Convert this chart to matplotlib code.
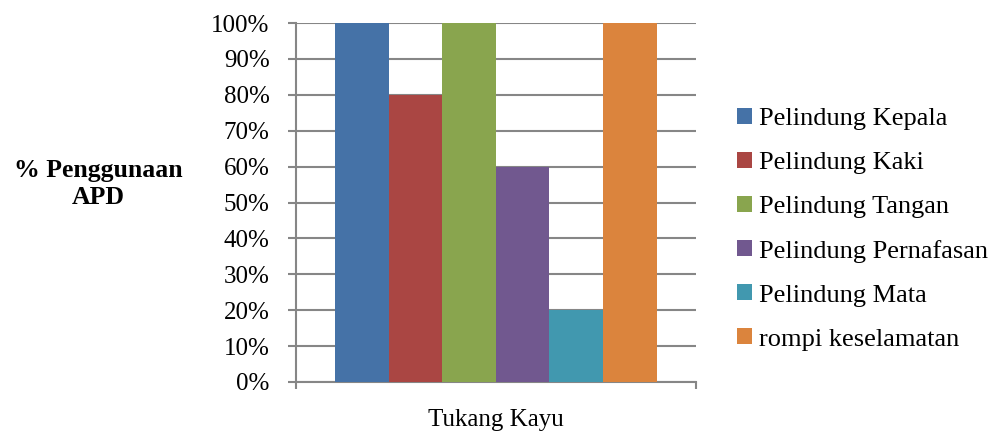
import numpy as np
import matplotlib
matplotlib.use("Agg")
import matplotlib.pyplot as plt

plt.rcParams['font.family'] = ['Liberation Serif', 'DejaVu Serif']

# data
category = 'Tukang Kayu'
series = ['Pelindung Kepala', 'Pelindung Kaki', 'Pelindung Tangan',
          'Pelindung Pernafasan', 'Pelindung Mata', 'rompi keselamatan']
values = [100, 80, 100, 60, 20, 100]
colors = ['#4572A7', '#AA4643', '#89A54E', '#71588F', '#4198AF', '#DB843D']
yticks = list(range(0, 101, 10))

fig = plt.figure(figsize=(9.91, 4.34), dpi=100)
ax = fig.add_axes([296/991, 52/434, 400/991, 359/434])

w = 0.134
start = -0.4025
x = start + w * (np.arange(len(values)) + 0.5)
bars = ax.bar(x, values, width=w, color=colors, zorder=3)

ax.set_xlim(-0.5, 0.5)
ax.set_ylim(0, 100)
ax.set_yticks(yticks)
ax.set_yticklabels([f'{t}%' for t in yticks])
ax.yaxis.grid(True, color='#868686', linewidth=1.5, zorder=0)
ax.set_xticks([-0.5, 0.5])
ax.set_xticklabels(['', ''])
ax.tick_params(axis='y', length=6, width=1.5, color='#868686', pad=13, labelsize=18)
ax.tick_params(axis='x', length=5, width=1.5, color='#868686', direction='out')
for s in ['top', 'right']:
    ax.spines[s].set_visible(False)
for s in ['left', 'bottom']:
    ax.spines[s].set_color('#868686')
    ax.spines[s].set_linewidth(1.5)

ax.set_xlabel(category, fontsize=18, labelpad=11)
fig.text(98/991, 1 - 184/434, '% Penggunaan\nAPD', ha='center', va='center',
         fontsize=18.5, fontweight='bold', linespacing=1.25)

fig.legend(bars, series, loc='upper left', bbox_to_anchor=(737/991, 1 - 108/434),
           frameon=False, fontsize=19, handlelength=0.55, handleheight=0.55,
           handletextpad=0.3, labelspacing=0.82, borderpad=0, borderaxespad=0)

fig.savefig('out.png', dpi=100)
